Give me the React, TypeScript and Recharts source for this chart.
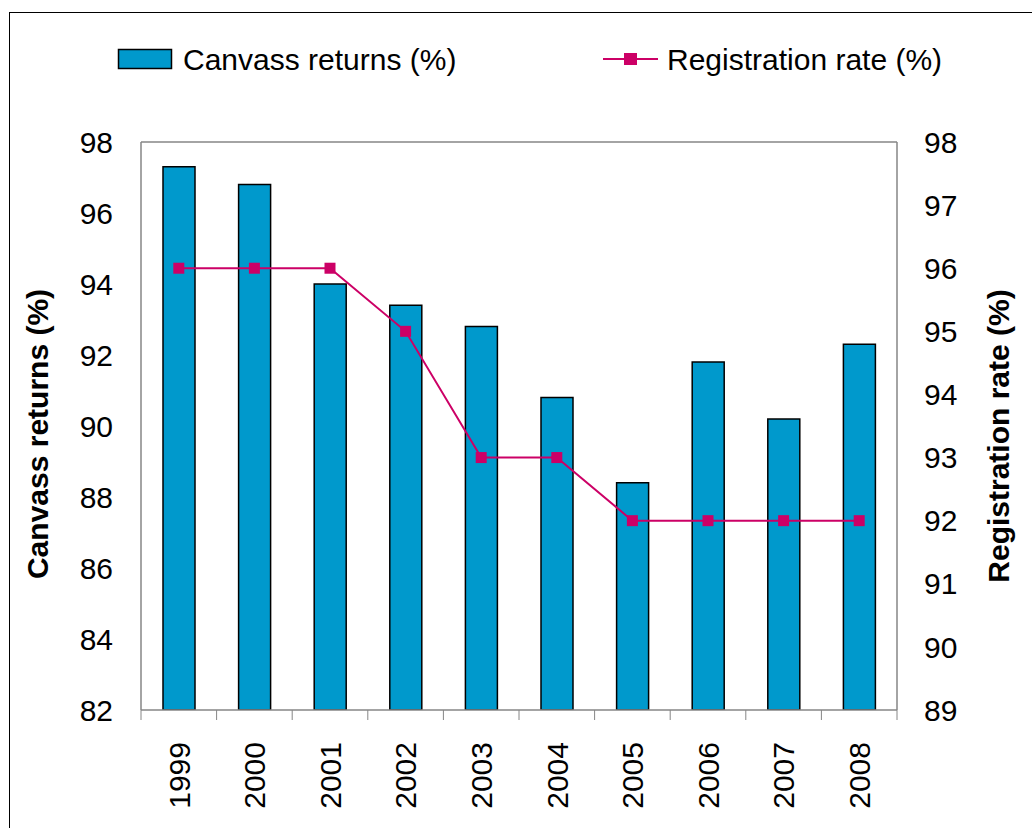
import React from 'react';
import { ComposedChart, Bar, Line, XAxis, YAxis, Legend, ReferenceLine } from 'recharts';

const years = ['1999', '2000', '2001', '2002', '2003', '2004', '2005', '2006', '2007', '2008'];
const canvassReturns = [97.3, 96.8, 94.0, 93.4, 92.8, 90.8, 88.4, 91.8, 90.2, 92.3];
const registrationRate = [96, 96, 96, 95, 93, 93, 92, 92, 92, 92];
const leftTicks = [82, 84, 86, 88, 90, 92, 94, 96, 98];
const rightTicks = [89, 90, 91, 92, 93, 94, 95, 96, 97, 98];

const data = years.map((y, i) => ({ year: y, canvass: canvassReturns[i], registration: registrationRate[i] }));

const W = 1032;
const H = 828;
const LEFT_W = 141;
const RIGHT_W = 135;
const TOP = 142;
const BOTTOM_H = 118;
const PLOT_W = W - LEFT_W - RIGHT_W;
const BAND = PLOT_W / years.length;

const FONT = '"Liberation Sans", Arial, sans-serif';
const BAR_COLOR = '#0099CC';
const LINE_COLOR = '#CC0066';
const AXIS_COLOR = '#868686';

const XTick = (props: any) => {
  const { x, y, payload, index } = props;
  const left = x - BAND / 2;
  const right = x + BAND / 2;
  return (
    <g>
      <line x1={left} y1={y} x2={left} y2={y + 10} stroke={AXIS_COLOR} strokeWidth={1} />
      {index === years.length - 1 && (
        <line x1={right} y1={y} x2={right} y2={y + 10} stroke={AXIS_COLOR} strokeWidth={1} />
      )}
      <text
        transform={`translate(${x},${y + 32}) rotate(-90)`}
        textAnchor="end"
        dy="0.36em"
        fontSize={30}
        fontFamily={FONT}
        fill="#000"
      >
        {payload.value}
      </text>
    </g>
  );
};

const SquareDot = (props: any) => {
  const { cx, cy } = props;
  if (cx == null || cy == null) return null;
  return <rect x={cx - 5.5} y={cy - 5.5} width={11} height={11} fill={LINE_COLOR} />;
};

const LegendContent = () => (
  <svg width={W} height={100} style={{ display: 'block', overflow: 'visible' }}>
    <rect x={118.5} y={49.5} width={53} height={19} fill={BAR_COLOR} stroke="#000" strokeWidth={1.5} />
    <text x={183} y={59} dy="0.36em" fontSize={30} fontFamily={FONT} fill="#000">
      Canvass returns (%)
    </text>
    <line x1={603} y1={59} x2={658} y2={59} stroke={LINE_COLOR} strokeWidth={2} />
    <rect x={624} y={53} width={13} height={12} fill={LINE_COLOR} />
    <text x={667} y={59} dy="0.36em" fontSize={30} fontFamily={FONT} fill="#000">
      Registration rate (%)
    </text>
  </svg>
);

const LeftTitle = (props: any) => {
  const vb = props.viewBox || {};
  const cy = (vb.y ?? TOP) + (vb.height ?? 568) / 2 + 8;
  return (
    <text
      transform={`translate(37,${cy}) rotate(-90)`}
      textAnchor="middle"
      dy="0.36em"
      fontSize={30}
      fontWeight="bold"
      fontFamily={FONT}
      fill="#000"
    >
      Canvass returns (%)
    </text>
  );
};

const RightTitle = (props: any) => {
  const vb = props.viewBox || {};
  const cy = (vb.y ?? TOP) + (vb.height ?? 568) / 2 + 10;
  return (
    <text
      transform={`translate(998,${cy}) rotate(-90)`}
      textAnchor="middle"
      dy="0.36em"
      fontSize={30}
      fontWeight="bold"
      fontFamily={FONT}
      fill="#000"
    >
      Registration rate (%)
    </text>
  );
};

export default function App() {
  return (
    <div style={{ position: 'absolute', left: 0, top: 0, width: W, height: H, overflow: 'hidden', background: '#fff' }}>
      <div
        style={{
          position: 'absolute',
          left: 9,
          top: 12,
          width: 1200,
          height: 1000,
          border: '1px solid #000',
          boxSizing: 'border-box',
        }}
      />
      <div style={{ position: 'absolute', left: 0, top: 0 }}>
        <ComposedChart width={W} height={H} data={data} margin={{ top: TOP, right: 0, bottom: 0, left: 0 }}>
          <Legend
            layout="horizontal"
            verticalAlign="middle"
            align="center"
            content={<LegendContent />}
            wrapperStyle={{ position: 'absolute', top: 0, left: 0, width: W, height: 100 }}
          />
          <XAxis
            dataKey="year"
            height={BOTTOM_H}
            interval={0}
            tickLine={false}
            tickSize={0}
            tickMargin={0}
            axisLine={{ stroke: AXIS_COLOR, strokeWidth: 1.5 }}
            tick={<XTick />}
          />
          <YAxis
            yAxisId="left"
            orientation="left"
            width={LEFT_W}
            domain={[82, 98]}
            ticks={leftTicks}
            interval={0}
            allowDataOverflow
            tickLine={false}
            tickSize={0}
            tickMargin={28}
            axisLine={{ stroke: AXIS_COLOR, strokeWidth: 1.5 }}
            tick={{ fontSize: 30, fontFamily: FONT, fill: '#000' }}
            label={<LeftTitle />}
          />
          <YAxis
            yAxisId="right"
            orientation="right"
            width={RIGHT_W}
            domain={[89, 98]}
            ticks={rightTicks}
            interval={0}
            allowDataOverflow
            tickLine={false}
            tickSize={0}
            tickMargin={27}
            axisLine={{ stroke: AXIS_COLOR, strokeWidth: 1.5 }}
            tick={{ fontSize: 30, fontFamily: FONT, fill: '#000', textAnchor: 'start' }}
            label={<RightTitle />}
          />
          <ReferenceLine yAxisId="left" y={98} stroke={AXIS_COLOR} strokeWidth={1.5} />
          <Bar
            yAxisId="left"
            dataKey="canvass"
            barSize={32}
            fill={BAR_COLOR}
            stroke="#000"
            strokeWidth={1.5}
            isAnimationActive={false}
          />
          <Line
            yAxisId="right"
            dataKey="registration"
            stroke={LINE_COLOR}
            strokeWidth={2}
            dot={<SquareDot />}
            activeDot={false}
            isAnimationActive={false}
          />
        </ComposedChart>
      </div>
    </div>
  );
}
